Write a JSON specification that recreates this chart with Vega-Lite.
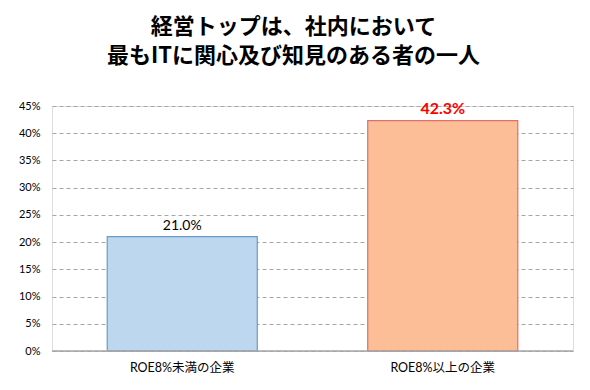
{
  "$schema": "https://vega.github.io/schema/vega-lite/v6.json",
  "width": 521,
  "height": 245,
  "autosize": "none",
  "padding": {"left": 52, "top": 106, "right": 17, "bottom": 39},
  "background": "white",
  "title": {
    "text": ["経営トップは、社内において", "最もITに関心及び知見のある者の一人"],
    "font": "Noto Sans CJK JP",
    "fontSize": 22,
    "fontWeight": "bold",
    "color": "#000000",
    "anchor": "middle",
    "dx": -19,
    "offset": 32,
    "lineHeight": 29
  },
  "data": {
    "values": [
      {"group": "ROE8%未満の企業", "value": 0.21, "label": "21.0%", "highlight": false},
      {"group": "ROE8%以上の企業", "value": 0.423, "label": "42.3%", "highlight": true}
    ]
  },
  "encoding": {
    "x": {
      "field": "group",
      "type": "nominal",
      "sort": null,
      "scale": {"paddingInner": 0.424, "paddingOuter": 0.212},
      "axis": {
        "title": null,
        "labelAngle": 0,
        "labelFont": "Lato, Noto Sans CJK JP",
        "labelFontSize": 12.5,
        "labelColor": "#000000",
        "labelPadding": 10,
        "ticks": false,
        "domain": false
      }
    },
    "y": {
      "field": "value",
      "type": "quantitative",
      "scale": {"domain": [0, 0.45], "nice": false},
      "axis": {
        "title": null,
        "format": ".0%",
        "values": [0, 0.05, 0.1, 0.15, 0.2, 0.25, 0.3, 0.35, 0.4, 0.45],
        "labelFont": "Lato",
        "labelFontSize": 11,
        "labelColor": "#000000",
        "labelPadding": 12,
        "ticks": false,
        "domain": false,
        "grid": true,
        "gridDash": [4, 3],
        "gridColor": "#a6a6a6",
        "gridWidth": 1
      }
    }
  },
  "layer": [
    {
      "mark": {"type": "bar", "strokeWidth": 1.2},
      "encoding": {
        "fill": {
          "field": "group",
          "type": "nominal",
          "scale": {"domain": ["ROE8%未満の企業", "ROE8%以上の企業"], "range": ["#BDD7EE", "#FBBE96"]},
          "legend": null
        },
        "stroke": {
          "field": "group",
          "type": "nominal",
          "scale": {"domain": ["ROE8%未満の企業", "ROE8%以上の企業"], "range": ["#6A9BC9", "#E46C6C"]},
          "legend": null
        }
      }
    },
    {
      "mark": {"type": "rule", "color": "#a6a6a6", "strokeWidth": 1.5},
      "data": {"values": [{"v": 0}]},
      "encoding": {"y": {"field": "v", "type": "quantitative"}, "x": null}
    },
    {
      "transform": [{"filter": "!datum.highlight"}],
      "mark": {"type": "text", "baseline": "bottom", "dy": -4, "font": "Lato", "fontSize": 14, "color": "#000000"},
      "encoding": {"text": {"field": "label"}}
    },
    {
      "transform": [{"filter": "datum.highlight"}],
      "mark": {"type": "text", "baseline": "bottom", "dy": -4, "font": "Lato", "fontSize": 16, "fontWeight": "bold", "color": "#FF0000"},
      "encoding": {"text": {"field": "label"}}
    }
  ]
}
